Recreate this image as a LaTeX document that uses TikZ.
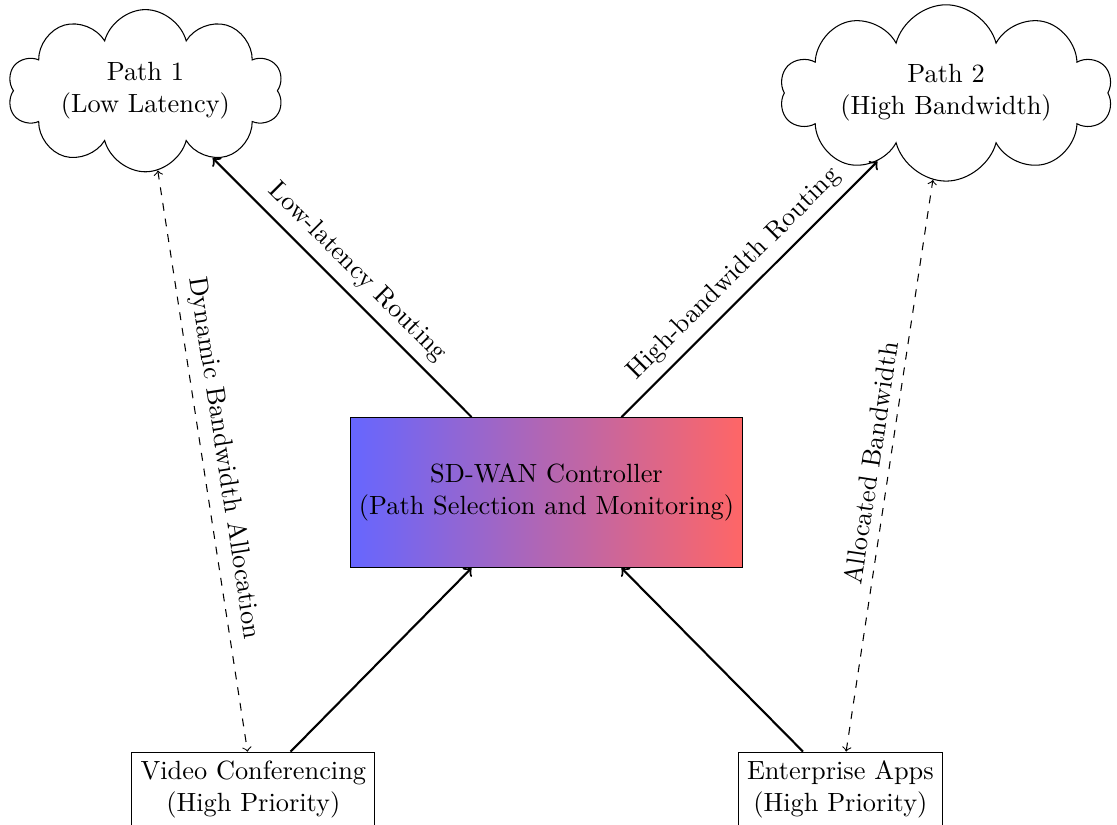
\documentclass[tikz,border=0pt]{standalone}
\usepackage{amsfonts, amsthm, amsmath}
\usepackage{tikz}
\usetikzlibrary{shapes.symbols}

\tikzset{pathcloud/.style={cloud, draw, cloud puffs=10, cloud ignores aspect, align=center},
appbox/.style={draw, rectangle, align=center}}

\begin{document}
\begin{tikzpicture}
\useasboundingbox (-7.29,-4.43) rectangle (7.61,6.57);

\node[draw, left color=blue!60, right color=red!60, minimum width=5cm, minimum height=2cm, align=center] (ctrl) at (0,0) {SD-WAN Controller\\(Path Selection and Monitoring)};

%paths
\node[pathcloud] (path1) at (-5.35,5.36) {Path 1\\(Low Latency)};
\node[pathcloud] (path2) at (5.33,5.33) {Path 2\\(High Bandwidth)};

%applications
\node[appbox] (video) at (-3.91,-3.96) {Video Conferencing\\(High Priority)};
\node[appbox] (apps) at (3.92,-3.96) {Enterprise Apps\\(High Priority)};

\draw[->, thick] ([xshift=-1cm]ctrl.north) -- (path1) node[midway, above, sloped] {Low-latency Routing};
\draw[->, thick] ([xshift=1cm]ctrl.north) -- (path2) node[midway, above, sloped] {High-bandwidth Routing};
\draw[->, thick] (video) -- ([xshift=-1cm]ctrl.south);
\draw[->, thick] (apps) -- ([xshift=1cm]ctrl.south);

%bandwidth
\draw[<->, dashed] (path1) -- (video) node[midway, above, sloped] {Dynamic Bandwidth Allocation};
\draw[<->, dashed] (apps) -- (path2) node[midway, above, sloped] {Allocated Bandwidth};
\end{tikzpicture}
\end{document}
